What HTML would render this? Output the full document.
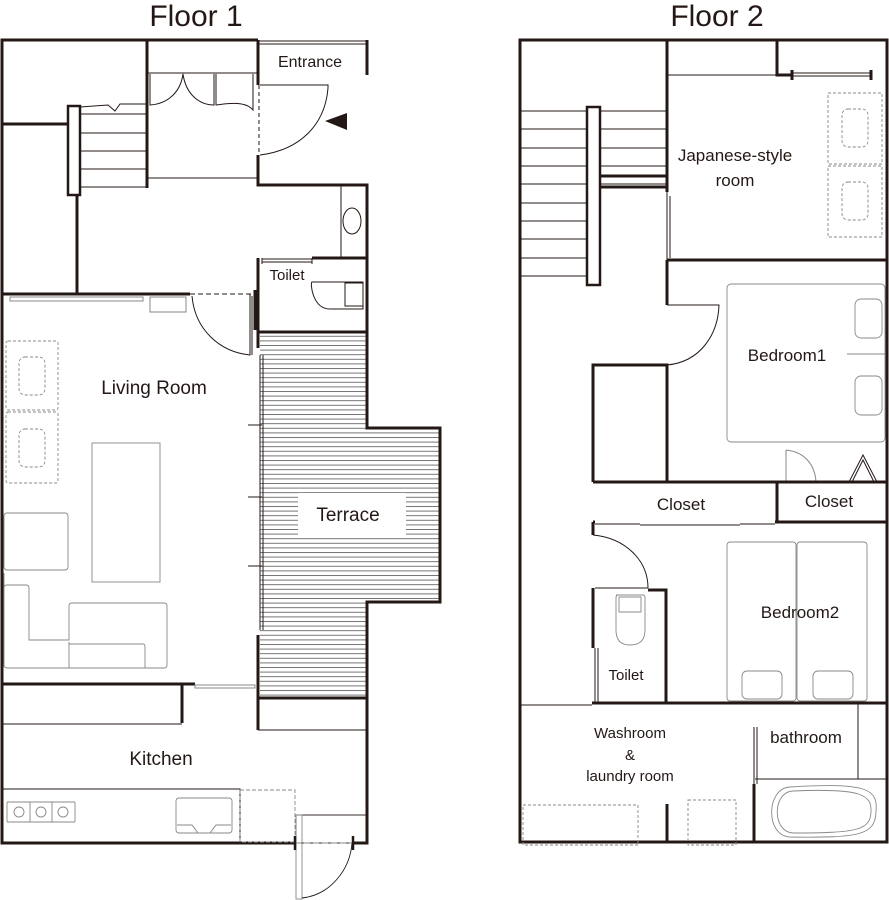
<!DOCTYPE html>
<html><head><meta charset="utf-8"><style>
html,body{margin:0;padding:0;background:#fff}
svg{display:block}
text{font-family:"Liberation Sans",sans-serif;fill:#231815}
</style></head><body>
<svg width="889" height="900" viewBox="0 0 889 900" xmlns="http://www.w3.org/2000/svg">
<defs>
<pattern id="h" width="10" height="4.6" patternUnits="userSpaceOnUse"><line x1="0" y1="0.5" x2="10" y2="0.5" stroke="#666" stroke-width="0.9"/></pattern>
</defs>
<g fill="none" stroke="#231815">
<!-- FLOOR 1 -->
<text x="196" y="26" font-size="30" text-anchor="middle" stroke="none">Floor 1</text>
<path d="M260 332 H367 V428 H440 V602 H367 V698 H260 Z" fill="url(#h)" stroke="none"/>
<rect x="298" y="493" width="108" height="44" fill="#fff" stroke="none"/>
<g stroke-width="3">
<path d="M258 40 H2 V843 H295"/>
<path d="M353 843 H367 V698"/>
<path d="M147 40 V188"/>
<path d="M258 40 V85 M258 155 V185 H367 V332 V428 H440 V602 H367 V698 H258 V730"/>
<path d="M367 40 V75"/>
<path d="M2 124 H68 M77 195 V294 M2 294 H190 M255 290 V330"/>
<path d="M258 258 V332 H367 M312 258 H367"/>
<path d="M258 333 V348 M258 635 V698"/>
<path d="M2 684 H195 M182 684 V723"/>
<path d="M240 843 H295"/>
</g>
<g stroke-width="1">
<path d="M258 41 H367 M258 44 H367"/>
<path d="M147 73 H258 M147 178 H258"/>
<path d="M80 114 H147 M80 133 H147 M80 151 H147 M80 169 H147 M80 187 H147"/>
<path d="M80 107 L108 105 L115 111 L120 104 L147 104"/>
<path d="M150 74 V105 C165 104 180 95 183 74 C186 95 200 105 214 105 V74 M216 74 V105 C225 104 245 100 253 110 V74"/>
<path d="M260 85 H328 V88 M328 88 C325 125 300 150 260 155" />
<path d="M259 85 V155" stroke-dasharray="4 3"/>
<path d="M341 186 V258"/>
<ellipse cx="352" cy="221" rx="9" ry="13"/>
<path d="M262 258 V264 M312 258 V264 M262 259 H312 M262 262 H312"/>
<path d="M350 282 H312 C310 282 312 309 330 309 H363 V282 Z M345 283 H363 V306 H345 Z"/>
<path d="M190 294 H255" stroke-dasharray="5 3"/>
<path d="M192 296 C195 330 220 352 250 355 V294 M252 296 V355"/>
<path d="M260 355 V630 M263 355 V630 M248 425 H262 M248 497 H262 M248 566 H262"/>
<rect x="10" y="297" width="133" height="4" stroke="#888"/>
<rect x="150" y="297" width="36" height="15" stroke="#888"/>
<rect x="195" y="685" width="60" height="3" stroke="#888"/>
<path d="M2 724 H182 M258 730 H367"/>
<path d="M2 789 H240 V843"/>
</g>
<g stroke="#888" stroke-width="0.9">
<rect x="6" y="341" width="52" height="69" rx="2" stroke-dasharray="3 2"/>
<rect x="6" y="412" width="52" height="71" rx="2" stroke-dasharray="3 2"/>
<rect x="19" y="357" width="26" height="38" rx="6" stroke-dasharray="3 2"/>
<rect x="19" y="429" width="26" height="38" rx="6" stroke-dasharray="3 2"/>
<rect x="92" y="443" width="68" height="139"/>
<rect x="4" y="513" width="64" height="57" rx="3"/>
<path d="M4 573 V665 Q4 668 8 668 H164 Q167 668 167 665 V606 Q167 603 164 603 H72 Q69 603 69 606 V640 H29 V588 Q29 585 26 585 H7 Q4 585 4 588"/>
<path d="M69 642 V668 M69 644 H143 Q145 644 145 647 V668"/>
<rect x="7" y="802" width="68" height="20" rx="1"/>
<circle cx="19" cy="812" r="5"/><circle cx="41" cy="812" r="5"/><circle cx="63" cy="812" r="5"/>
<path d="M30 802 V822 M52 802 V822"/>
<rect x="176" y="798" width="56" height="35" rx="3"/>
<path d="M177 825 H192 L198 833 H210 L216 825 H231"/>
<rect x="240" y="790" width="55" height="52" stroke-dasharray="4 2"/>
<rect x="296" y="815" width="71" height="28" stroke="#231815"/>
<rect x="296" y="815" width="6" height="84"/>
<path d="M302 898 C330 895 350 870 352 843" stroke="#231815"/>
<path d="M295 843 H353" stroke-dasharray="6 3"/>
</g>
<path d="M295 836 V850 M353 836 V850" stroke-width="2.5"/>
<rect x="68" y="106" width="12" height="89" fill="#fff" stroke-width="2.5"/>
<polygon points="325,121 347,113 347,130" fill="#231815" stroke="none"/>
<g stroke="none" font-size="16">
<text x="310" y="67" text-anchor="middle">Entrance</text>
<text x="287" y="280" text-anchor="middle" font-size="15">Toilet</text>
<text x="154" y="394" text-anchor="middle" font-size="19">Living Room</text>
<text x="348" y="521" text-anchor="middle" font-size="19">Terrace</text>
<text x="161" y="765" text-anchor="middle" font-size="19">Kitchen</text>
</g>

<!-- FLOOR 2 -->
<text x="717" y="26" font-size="30" text-anchor="middle" stroke="none">Floor 2</text>
<g stroke-width="1">
<path d="M520 111 H667 M520 129 H667 M520 148 H667 M520 166 H667 M520 184 H667 M520 203 H600 M520 221 H600 M520 239 H600 M520 258 H600 M520 276 H600"/>
<path d="M667 75 H777 M793 73 H871 M793 76 H871"/>
<path d="M667 192 V260 M670 196 V258"/>
<path d="M667 305 H719 C718 335 700 362 667 365"/>
<path d="M786 450 V482 M786 450 C805 452 815 465 816 482 M816 482 H848" stroke="#888"/>
<path d="M816 482 H850" stroke-dasharray="3 2"/>
<path d="M849 482 L863 455 L877 482 M852 482 L863 460 L874 482"/>
<path d="M595 524 H640 M640 525 H740 M740 524 H775"/>
<path d="M593 535 C625 538 648 560 648 588"/>
<path d="M595 588 H648 M595 648 V702 M598 648 V702"/>
<path d="M520 705 H592"/>
<path d="M754 727 V784 M757 727 V784 M755 779 H887 M858 703 V779"/>
</g>
<g stroke-width="3">
<rect x="520" y="40" width="367" height="802"/>
<path d="M667 40 V192 M777 40 V75 H792 M792 70 V80 M871 70 V80"/>
<path d="M600 176 H667 M600 187 H667"/>
<path d="M667 260 H887 M667 260 V305"/>
<path d="M593 482 V365 H667 V482"/>
<path d="M593 482 H887 M777 482 V522 M593 522 V535 M593 522 H595 M775 522 H887"/>
<path d="M593 648 V588 M648 590 H666 V702"/>
<path d="M592 703 H887"/>
<path d="M754 784 V842 M667 804 V842"/>
</g>
<rect x="587" y="107" width="13" height="178" fill="#fff" stroke-width="2.5"/>
<g stroke="#888" stroke-width="0.9">
<rect x="828" y="93" width="54" height="71" stroke-dasharray="3 2"/>
<rect x="828" y="166" width="54" height="71" stroke-dasharray="3 2"/>
<rect x="842" y="109" width="26" height="38" rx="6" stroke-dasharray="3 2"/>
<rect x="842" y="182" width="26" height="38" rx="6" stroke-dasharray="3 2"/>
<rect x="727" y="284" width="158" height="158" rx="4"/>
<path d="M847 354 H885"/>
<rect x="855" y="299" width="27" height="39" rx="6"/>
<rect x="855" y="376" width="27" height="39" rx="6"/>
<rect x="727" y="542" width="69" height="159" rx="3"/>
<rect x="797" y="542" width="70" height="159" rx="3"/>
<rect x="742" y="671" width="40" height="28" rx="5"/>
<rect x="813" y="671" width="40" height="28" rx="5"/>
<path d="M616 595 H643 Q645 595 645 598 V630 Q645 645 630 645 Q616 645 616 630 V598 Q616 595 618 595 Z M619 597 H641 V612 H619 Z"/>
<path d="M790 787 C870 782 878 790 876 812 C875 835 860 838 790 837 C765 836 766 788 790 787 Z"/>
<path d="M793 791 C862 788 872 795 871 812 C870 830 858 833 793 833 C772 832 772 792 793 791 Z"/>
<rect x="523" y="805" width="115" height="40" stroke-dasharray="3 2"/>
<rect x="688" y="800" width="48" height="45" stroke-dasharray="3 2"/>
</g>
<g stroke="none" font-size="17">
<text x="735" y="161" text-anchor="middle">Japanese-style</text>
<text x="735" y="186" text-anchor="middle">room</text>
<text x="787" y="361" text-anchor="middle">Bedroom1</text>
<text x="681" y="510" text-anchor="middle">Closet</text>
<text x="829" y="507" text-anchor="middle">Closet</text>
<text x="800" y="618" text-anchor="middle">Bedroom2</text>
<text x="626" y="680" text-anchor="middle" font-size="15">Toilet</text>
<text x="630" y="738" text-anchor="middle" font-size="15">Washroom</text>
<text x="630" y="760" text-anchor="middle" font-size="15">&amp;</text>
<text x="630" y="781" text-anchor="middle" font-size="15">laundry room</text>
<text x="806" y="743" text-anchor="middle" font-size="17">bathroom</text>
</g>
</g>
</svg>
</body></html>
